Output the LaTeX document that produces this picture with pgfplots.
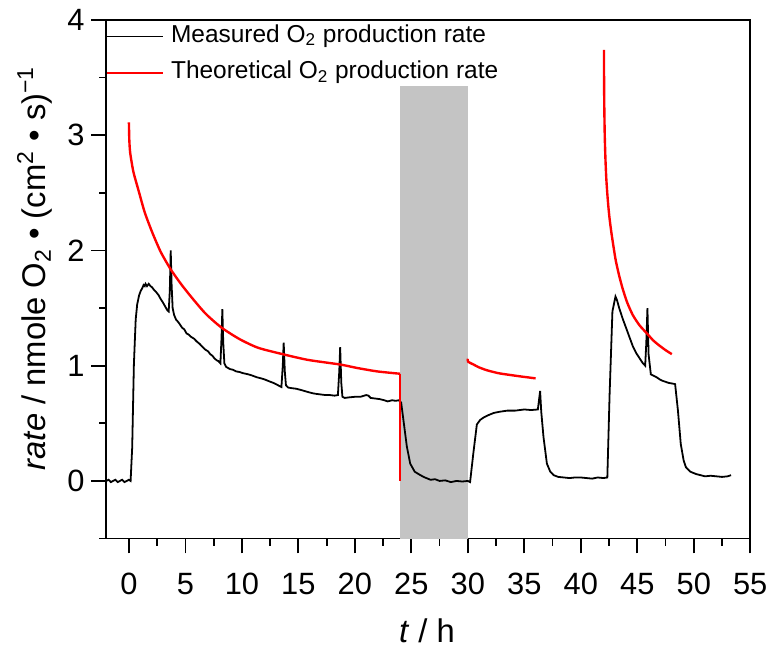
\documentclass[border=0pt]{standalone}
\usepackage{pgfplots}
\pgfplotsset{compat=1.18}
\usepackage{fontspec}
\setmainfont{Liberation Sans}
\definecolor{shade}{RGB}{196,196,196}
\begin{document}
\begin{tikzpicture}
\begin{axis}[
  scale only axis, width=324pt, height=261pt,
  xmin=-2, xmax=55, ymin=-0.5, ymax=4,
  xtick={0,5,...,55}, ytick={0,1,2,3,4},
  minor xtick={2.5,7.5,...,52.5}, minor ytick={-0.5,0.5,...,3.5},
  xtick pos=bottom, ytick pos=left, tick align=outside,
  major tick length=7.5pt, minor tick length=3.5pt,
  axis line style={line width=0.9pt},
  every tick/.style={line width=0.9pt, black},
  tick label style={font=\fontsize{15.5}{18}\selectfont},
  /pgf/number format/assume math mode=true,
  xticklabel style={yshift=-6.5pt},
  xlabel={\textit{t} / h},
  ylabel={\textit{rate} / nmole O\textsubscript{2} • (cm\textsuperscript{2} • s)\textsuperscript{−1}},
  label style={font=\fontsize{16.5}{19}\selectfont},
  xlabel style={at={(axis description cs:0.498,-0.178)}, anchor=center},
  ylabel style={at={(axis description cs:-0.111,0.521)}, anchor=center},
  legend style={at={(axis description cs:0,1)}, anchor=north west, draw=none, fill=none,
    inner sep=0pt, row sep=6.5pt, font=\fontsize{12.3}{14}\selectfont,
    nodes={inner sep=0pt, text height=9pt, text depth=3pt}, yshift=-2pt},
  legend cell align=left,
  legend image code/.code={\draw[#1, line width=0.6pt] (0pt,0pt) -- (28pt,0pt); \path (31.5pt,0pt);},
]
\addplot[fill=shade, draw=none, forget plot] coordinates {(24,-0.5) (24,3.43) (30,3.43) (30,-0.5)} -- cycle;

\addplot[black, line width=0.9pt] table {
-2.00 0.00
-1.80 0.01
-1.60 -0.01
-1.40 0.00
-1.20 0.01
-1.00 -0.01
-0.80 0.00
-0.60 0.01
-0.40 -0.01
-0.20 0.00
0.00 0.01
0.15 0.00
0.29 0.29
0.44 1.01
0.60 1.40
0.73 1.53
0.90 1.61
1.05 1.65
1.17 1.67
1.30 1.70
1.40 1.69
1.47 1.71
1.60 1.69
1.75 1.71
1.91 1.69
2.05 1.68
2.20 1.66
2.40 1.64
2.64 1.61
2.80 1.58
3.00 1.55
3.23 1.51
3.40 1.48
3.52 1.47
3.62 1.65
3.70 2.00
3.78 1.70
3.87 1.50
4.00 1.44
4.17 1.40
4.35 1.38
4.50 1.36
4.70 1.33
4.90 1.315
5.10 1.28
5.28 1.27
5.50 1.25
5.75 1.235
6.00 1.21
6.25 1.19
6.50 1.165
6.75 1.14
7.00 1.125
7.20 1.10
7.40 1.085
7.60 1.06
7.80 1.045
7.92 1.04
8.10 1.02
8.20 1.25
8.27 1.49
8.35 1.20
8.45 1.02
8.60 0.99
8.95 0.97
9.20 0.965
9.50 0.95
9.80 0.945
10.10 0.935
10.56 0.925
10.90 0.915
11.30 0.90
11.70 0.89
12.03 0.88
12.40 0.865
12.80 0.85
13.10 0.835
13.50 0.815
13.62 1.00
13.70 1.20
13.80 0.95
13.90 0.83
14.10 0.81
14.40 0.805
14.80 0.80
15.20 0.79
15.55 0.78
15.90 0.77
16.30 0.76
16.60 0.755
17.00 0.75
17.40 0.745
17.80 0.745
18.20 0.74
18.50 0.745
18.62 0.95
18.70 1.16
18.80 0.85
18.90 0.73
19.10 0.72
19.50 0.725
20.00 0.73
20.50 0.73
21.00 0.745
21.20 0.74
21.40 0.72
21.80 0.715
22.20 0.71
22.60 0.70
22.90 0.69
23.30 0.70
23.60 0.695
23.90 0.70
24.10 0.68
24.35 0.49
24.60 0.30
24.90 0.15
25.30 0.08
25.80 0.05
26.20 0.03
26.70 0.01
27.10 0.015
27.50 0.00
28.00 0.005
28.50 -0.01
29.00 0.00
29.50 -0.005
30.00 0.00
30.20 -0.01
30.50 0.25
30.80 0.49
31.10 0.53
31.40 0.55
31.80 0.57
32.30 0.59
32.80 0.60
33.50 0.61
34.20 0.61
35.00 0.62
35.60 0.615
36.20 0.62
36.30 0.70
36.40 0.78
36.50 0.60
36.70 0.38
37.00 0.15
37.30 0.08
37.60 0.05
38.00 0.035
38.50 0.03
39.00 0.025
39.50 0.03
40.00 0.03
40.50 0.025
41.00 0.02
41.50 0.03
42.00 0.025
42.35 0.03
42.55 0.75
42.80 1.47
43.07 1.60
43.20 1.57
43.40 1.50
43.70 1.41
44.00 1.33
44.30 1.25
44.60 1.17
44.90 1.11
45.10 1.08
45.30 1.05
45.50 1.02
45.70 1.00
45.80 1.20
45.90 1.50
46.00 1.10
46.20 0.925
46.50 0.91
46.70 0.90
47.00 0.88
47.20 0.87
47.50 0.86
47.80 0.85
48.10 0.845
48.35 0.84
48.60 0.61
48.85 0.32
49.10 0.18
49.30 0.12
49.70 0.08
50.20 0.06
50.60 0.05
51.00 0.04
51.50 0.045
52.00 0.04
52.50 0.035
53.00 0.04
53.30 0.05
};
\addlegendentry{Measured O\textsubscript{2} production rate}

\addplot[red, line width=1.2pt, smooth, tension=0.4] table {
0.00 3.11
0.03 2.97
0.08 2.88
0.15 2.82
0.40 2.68
0.88 2.51
1.40 2.33
2.05 2.16
2.80 1.99
3.67 1.84
4.60 1.71
5.57 1.59
6.80 1.45
8.20 1.33
9.80 1.23
11.44 1.155
13.60 1.10
15.85 1.05
18.70 1.01
20.20 0.98
22.00 0.95
24.00 0.93
};
\addlegendentry{Theoretical O\textsubscript{2} production rate}
\addplot[red, line width=1.2pt, forget plot] coordinates {(24,0.93) (24,0)};
\addplot[red, line width=1.2pt, smooth, tension=0.4, forget plot] table {
30.00 1.06
30.02 1.035
30.50 1.01
31.00 0.985
31.70 0.96
32.70 0.935
33.70 0.92
34.80 0.905
36.00 0.89
};
\addplot[red, line width=1.2pt, smooth, tension=0.4, forget plot] table {
42.05 3.74
42.06 3.50
42.08 3.25
42.12 3.00
42.18 2.80
42.26 2.62
42.38 2.45
42.52 2.30
42.70 2.16
42.90 2.03
43.10 1.91
43.40 1.78
43.70 1.67
44.10 1.55
44.60 1.44
45.20 1.35
45.90 1.275
46.40 1.22
46.95 1.175
47.50 1.135
48.06 1.10
};
\end{axis}
\path (current axis.south west) ++(-53.5pt,-52pt);
\path (current axis.north east) ++(9.5pt,10pt);
\end{tikzpicture}
\end{document}
